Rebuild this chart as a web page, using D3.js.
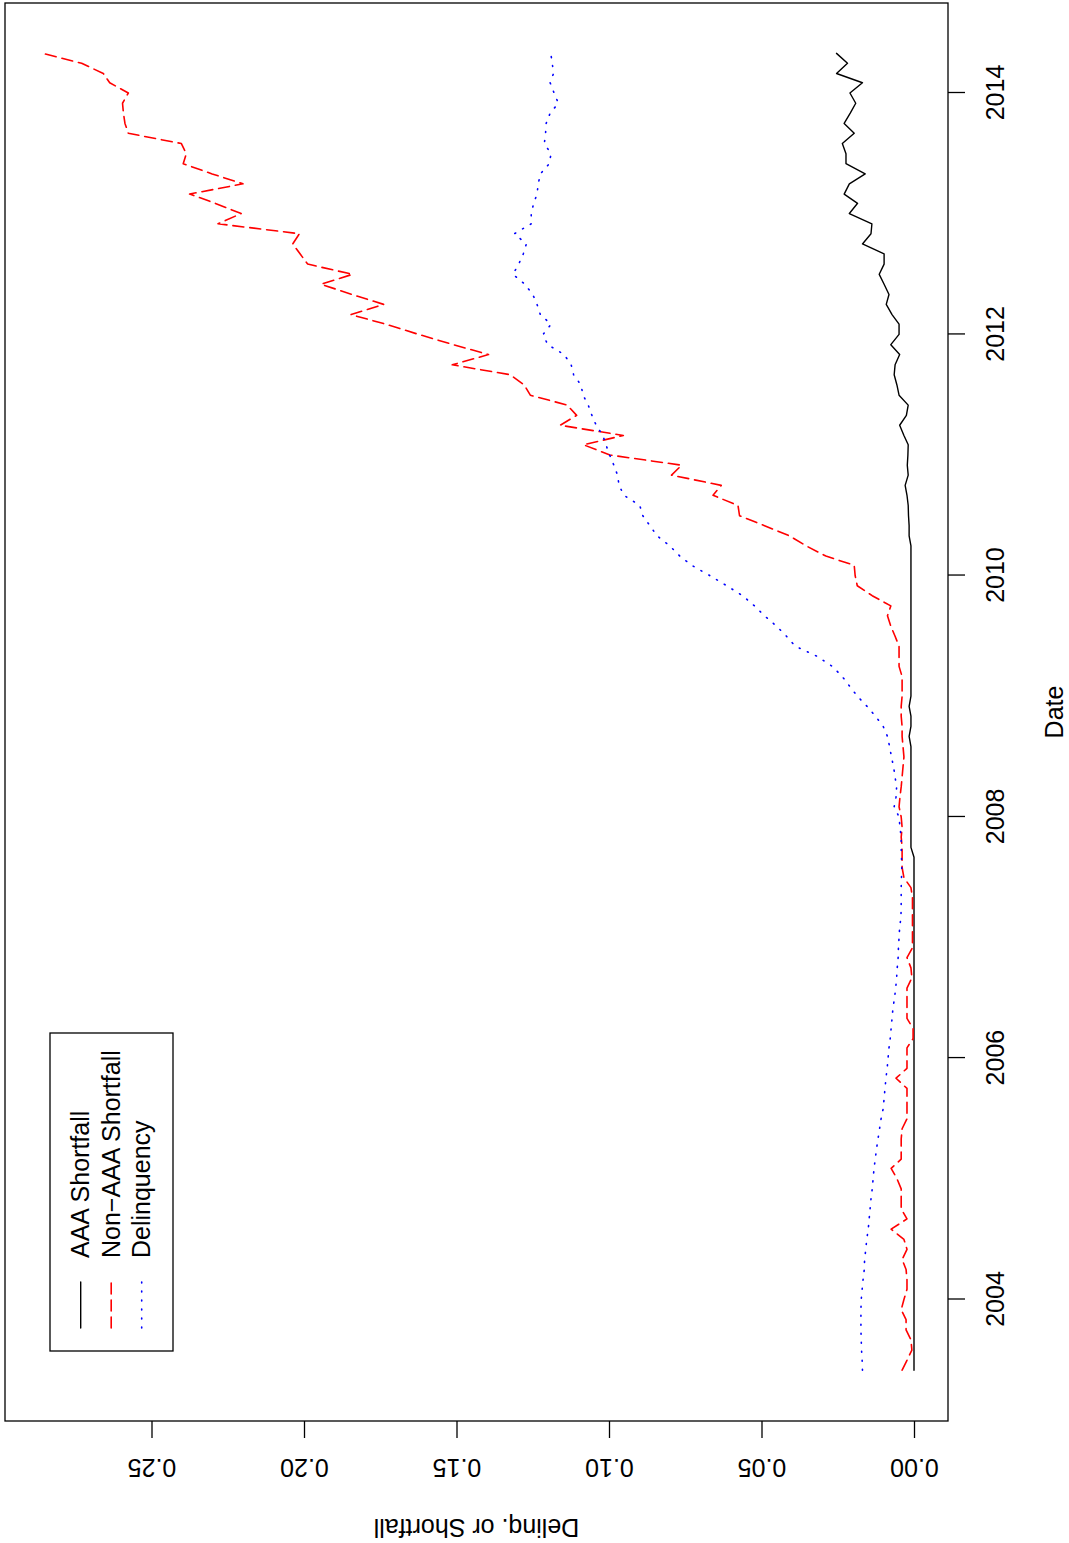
<!DOCTYPE html>
<html>
<head>
<meta charset="utf-8">
<script src="https://cdn.jsdelivr.net/npm/d3@7"></script>
<style>
  body { margin: 0; background: #fff; }
  svg { display: block; font-family: "Liberation Sans", Arial, Helvetica, sans-serif; }
</style>
</head>
<body>
<div id="content"></div>
<script>
// monthly series, June 2003 .. May 2014
var startMonth = new Date(2003, 5, 1),
    endMonth = new Date(2014, 5, 1);

var aaaShortfall = [
  0,0,0,0,0,0,0,0,0,0, 0,0,0,0,0,0,0,0,0,0,
  0,0,0,0,0,0,0,0,0,0, 0,0,0,0,0,0,0,0,0,0,
  0,0,0,0,0,0,0,0,0,0, 0,0,
  0.0010,0.0010,0.0010,0.0010,0.0010,0.0010,0.0010,0.0010,0.0010,0.0010,0.0010,
  0.0016,0.0010,0.0010,0.0016,
  0.0010,0.0010,0.0010,0.0010,0.0010,0.0010,0.0010,0.0010,0.0010,0.0010,0.0010,0.0010,0.0010,0.0010,0.0010,0.0010,
  0.0016,0.0016,0.0018,0.0019,0.0023,0.0029,0.0019,0.0022,0.0020,0.0019,
  0.0033,0.0047,0.0025,0.0019,0.0049,0.0056,0.0065,0.0062,0.0047,0.0076,
  0.0049,0.0049,0.0072,0.0091,0.0082,0.0098,0.0114,0.0098,0.0098,0.0169,
  0.0141,0.0138,0.0212,0.0185,0.0229,0.0212,0.0160,0.0223,0.0223,0.0235,
  0.0196,0.0229,0.0209,0.0191,0.0210,0.0169,0.0254,0.0218,0.0254
];

var nonAaaShortfall = [
  0.0039,0.0023,0.0007,0.0010,0.0026,0.0026,0.0042,0.0033,0.0023,0.0023,
  0.0026,0.0039,0.0023,0.0033,0.0075,0.0023,0.0042,0.0042,0.0042,0.0056,
  0.0075,0.0042,0.0042,0.0042,0.0039,0.0023,0.0023,0.0023,0.0023,0.0059,
  0.0023,0.0023,0.0023,0.0003,0.0003,0.0023,0.0023,0.0023,0.0023,0.0007,
  0.0010,0.0023,0.0005,0.0005,0.0005,0.0005,0.0005,0.0005,0.0010,0.0033,
  0.0039,0.0039,0.0039,0.0042,0.0039,0.0042,0.0049,0.0046,0.0042,0.0039,
  0.0036,0.0033,0.0036,0.0039,0.0039,0.0042,0.0042,0.0039,0.0039,0.0039,
  0.0049,0.0049,0.0049,0.0062,0.0076,0.0087,0.0076,0.0137,0.0186,0.0193,
  0.0196,0.0289,0.0354,0.0408,0.0490,0.0572,0.0577,0.0659,0.0632,0.0795,
  0.0762,0.0997,0.1084,0.0953,0.1160,0.1106,0.1137,0.1258,0.1278,0.1324,
  0.1514,0.1395,0.1510,0.1624,0.1732,0.1846,0.1739,0.1843,0.1944,0.1841,
  0.1988,0.2013,0.2037,0.2015,0.2282,0.2206,0.2291,0.2375,0.2200,0.2301,
  0.2396,0.2386,0.2402,0.2576,0.2587,0.2592,0.2595,0.2576,0.2637,0.2658,
  0.2729,0.2857
];

var delinquency = [
  0.0169,0.0170,0.0172,0.0173,0.0174,0.0174,0.0174,0.0173,0.0170,0.0167,
  0.0163,0.0162,0.0158,0.0155,0.0150,0.0147,0.0144,0.0141,0.0137,0.0134,
  0.0131,0.0127,0.0123,0.0118,0.0113,0.0108,0.0101,0.0098,0.0095,0.0092,
  0.0088,0.0085,0.0082,0.0078,0.0075,0.0072,0.0069,0.0064,0.0060,0.0057,
  0.0055,0.0052,0.0051,0.0049,0.0047,0.0043,0.0042,0.0042,0.0042,0.0041,
  0.0040,0.0041,0.0042,0.0042,0.0046,0.0049,0.0065,0.0059,0.0057,0.0062,
  0.0067,0.0074,0.0080,0.0087,0.0101,0.0126,0.0154,0.0186,0.0212,0.0235,
  0.0268,0.0317,0.0389,0.0418,0.0451,0.0490,0.0523,0.0562,0.0614,0.0670,
  0.0729,0.0768,0.0801,0.0842,0.0866,0.0889,0.0899,0.0951,0.0967,0.0972,
  0.0984,0.0998,0.1010,0.1020,0.1042,0.1056,0.1068,0.1085,0.1092,0.1116,
  0.1124,0.1147,0.1201,0.1216,0.1190,0.1225,0.1236,0.1250,0.1276,0.1315,
  0.1296,0.1281,0.1271,0.1310,0.1255,0.1255,0.1247,0.1236,0.1232,0.1225,
  0.1196,0.1190,0.1212,0.1208,0.1206,0.1193,0.1166,0.1180,0.1193,0.1182,
  0.1186,0.1191
];

var yearTicks = [2004, 2006, 2008, 2010, 2012, 2014];
var valueTicks = [0, 0.05, 0.10, 0.15, 0.20, 0.25];
var legendLabels = ["AAA Shortfall", "Non\u2212AAA Shortfall", "Delinquency"];

var W = 1069, H = 1543;
var svg = d3.select("#content").append("svg").attr("width", W).attr("height", H);

// the whole R plot is drawn landscape and then turned a quarter counter-clockwise
var g = svg.append("g").attr("transform", "translate(0," + H + ") rotate(-90)");

var box = {left: 122, right: 1540, top: 5, bottom: 948};

var x = d3.scaleTime()
    .domain([new Date(2004, 0, 1), new Date(2014, 0, 1)])
    .range([243.5, 1450]);
var y = d3.scaleLinear().domain([0, 0.25]).range([914, 151.5]);

var months = d3.timeMonth.range(startMonth, endMonth);

var series = [
  {name: legendLabels[0], values: aaaShortfall, color: "#000000", dash: null, width: 1.4},
  {name: legendLabels[1], values: nonAaaShortfall, color: "#FF0000", dash: "11,6", width: 1.6},
  {name: legendLabels[2], values: delinquency, color: "#0000FF", dash: "1,8", width: 1.6}
];

var line = d3.line()
    .x(function(d, i) { return x(months[i]); })
    .y(function(d) { return y(d); });

g.selectAll(".series")
    .data(series)
    .enter().append("path")
    .attr("class", "series")
    .attr("d", function(s) { return line(s.values); })
    .attr("fill", "none")
    .attr("stroke", function(s) { return s.color; })
    .attr("stroke-width", function(s) { return s.width; })
    .attr("stroke-dasharray", function(s) { return s.dash; })
    .attr("stroke-linecap", "round")
    .attr("stroke-linejoin", "round");

g.append("rect")
    .attr("x", box.left).attr("y", box.top)
    .attr("width", box.right - box.left).attr("height", box.bottom - box.top)
    .attr("fill", "none").attr("stroke", "#000").attr("stroke-width", 1.3);

// date axis
var xAxis = g.append("g")
    .attr("transform", "translate(0," + box.bottom + ")")
    .call(d3.axisBottom(x)
        .tickValues(yearTicks.map(function(yr) { return new Date(yr, 0, 1); }))
        .tickFormat(d3.timeFormat("%Y"))
        .tickSize(17));
xAxis.select(".domain").remove();
xAxis.selectAll("line").attr("stroke-width", 1.3);
xAxis.selectAll("text")
    .attr("y", 47).attr("dy", "0.35em")
    .attr("font-size", 25).attr("font-family", null).attr("fill", "#000");

// value axis, labels parallel to the axis
var yAxis = g.append("g")
    .attr("transform", "translate(" + box.left + ",0)")
    .call(d3.axisLeft(y).tickValues(valueTicks).tickFormat(d3.format(".2f")).tickSize(17));
yAxis.select(".domain").remove();
yAxis.selectAll("line").attr("stroke-width", 1.3);
yAxis.selectAll("text")
    .attr("x", null).attr("dy", "0.35em")
    .attr("transform", "translate(-46.5,0) rotate(-90)")
    .attr("text-anchor", "middle")
    .attr("font-size", 25).attr("font-family", null).attr("fill", "#000");
g.selectAll(".tick line").attr("stroke", "#000");

g.append("text")
    .attr("x", (box.left + box.right) / 2).attr("y", 1054)
    .attr("dy", "0.35em").attr("text-anchor", "middle")
    .attr("font-size", 25)
    .text("Date");

g.append("text")
    .attr("transform", "translate(15," + (box.top + box.bottom) / 2 + ") rotate(-90)")
    .attr("dy", "0.35em").attr("text-anchor", "middle")
    .attr("font-size", 25)
    .text("Delinq. or Shortfall");

// legend, top left of the landscape plot
var legend = g.append("g").attr("class", "legend");
legend.append("rect")
    .attr("x", 192).attr("y", 50).attr("width", 318).attr("height", 123)
    .attr("fill", "#fff").attr("stroke", "#000").attr("stroke-width", 1.3);

var items = legend.selectAll(".item")
    .data(series)
    .enter().append("g")
    .attr("class", "item")
    .attr("transform", function(d, i) { return "translate(0," + (80.7 + i * 30.5) + ")"; });

items.append("line")
    .attr("x1", 215).attr("x2", 261)
    .attr("stroke", function(s) { return s.color; })
    .attr("stroke-width", function(s) { return s.width; })
    .attr("stroke-dasharray", function(s) { return s.dash; })
    .attr("stroke-linecap", "round");

items.append("text")
    .attr("x", 285).attr("dy", "0.35em")
    .attr("font-size", 25)
    .text(function(s) { return s.name; });
</script>
</body>
</html>
